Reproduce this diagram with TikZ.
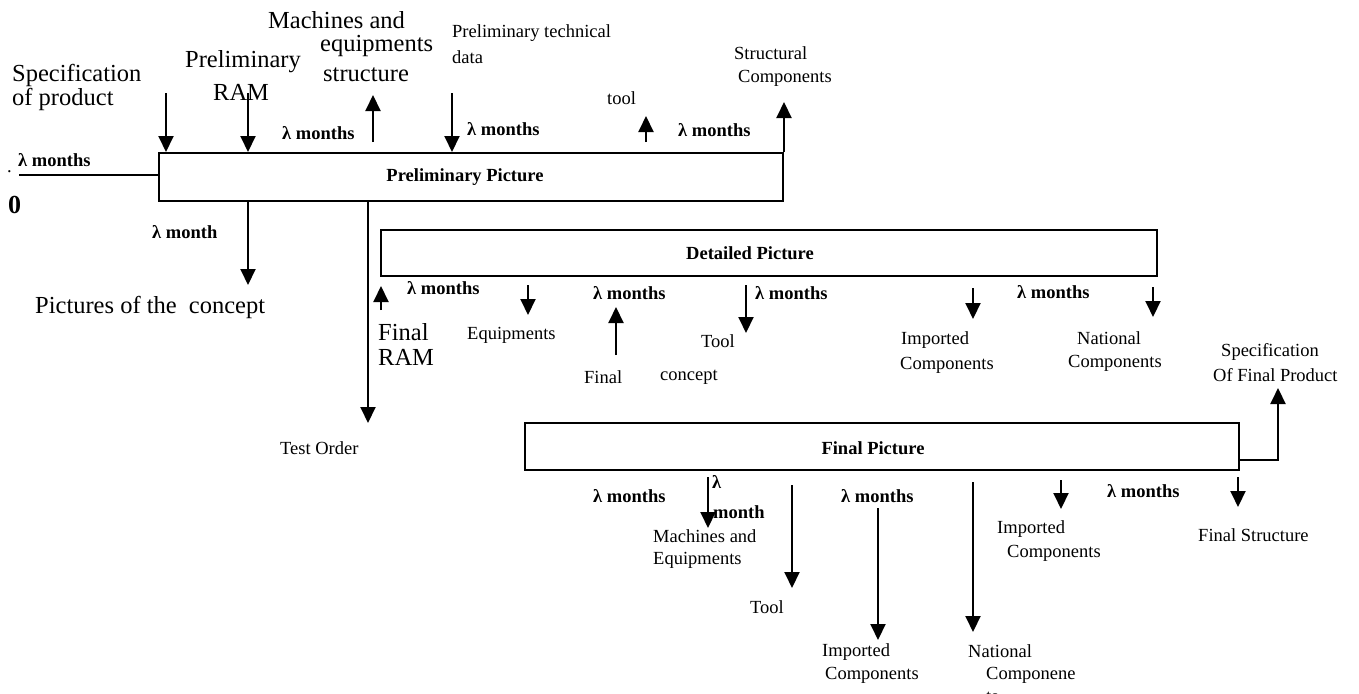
\documentclass[tikz,border=0pt]{standalone}
\usepackage{fontspec}
\setmainfont{Liberation Serif}
\usetikzlibrary{arrows.meta}
\begin{document}
\begin{tikzpicture}[x=1pt,y=-1pt,
  arr/.style={line width=2pt,-{Triangle[width=15pt,length=16pt]}},
  ln/.style={line width=2pt},
  box/.style={draw,line width=2pt,inner sep=0pt},
  sm/.style={inner sep=0pt,anchor=west,font=\fontsize{18.5}{22}\selectfont},
  lg/.style={inner sep=0pt,anchor=west,font=\fontsize{24.5}{22}\selectfont},
  bd/.style={inner sep=0pt,anchor=west,font=\bfseries\fontsize{18.5}{22}\selectfont},
  bc/.style={inner sep=0pt,font=\bfseries\fontsize{18.5}{22}\selectfont}]
\useasboundingbox (0,0) rectangle (1359,693);

% boxes
\node[box,minimum width=624pt,minimum height=48pt] (b1) at (471,177) {};
\node[box,minimum width=776pt,minimum height=46pt] (b2) at (769,253) {};
\node[box,minimum width=714pt,minimum height=47pt] (b3) at (882,446.5) {};
\node[bc] (l1) at (465,177) {Preliminary Picture};
\node[bc] (l2) at (750,253) {Detailed Picture};
\node[bc] (l3) at (873,448) {Final Picture};

% left line
\coordinate (st) at (19,175);
\draw[ln] (st) -- (st -| b1.west);
\node[sm] (dot) at (7,172) {.};
\node[bd] (m0) at (18,160) {λ months};
\node[inner sep=0pt,anchor=west,font=\bfseries\fontsize{26}{22}\selectfont] (zero) at (8,205) {0};

% top of box 1
\coordinate (a1) at (166,93);
\draw[arr] (a1) -- (a1 |- b1.north);
\node[lg] (t1a) at (12,75) {Specification};
\node[lg] (t1b) at (12,99) {of product};
\coordinate (a2) at (248,93);
\draw[arr] (a2) -- (a2 |- b1.north);
\node[lg] (t2a) at (185,62) {Preliminary};
\node[lg] (t2b) at (213,92) {RAM};
\coordinate (a3s) at (373,142);
\coordinate (a3e) at (373,95);
\draw[arr] (a3s) -- (a3e);
\node[lg] (t3a) at (268,20) {Machines and};
\node[lg] (t3b) at (320,46) {equipments};
\node[lg] (t3c) at (323,75) {structure};
\node[bd] (m1) at (282,133) {λ months};
\coordinate (a4) at (452,93);
\draw[arr] (a4) -- (a4 |- b1.north);
\node[sm] (t4a) at (452,33) {Preliminary technical};
\node[sm] (t4b) at (452,57) {data};
\node[bd] (m2) at (467,129) {λ months};
\coordinate (a5s) at (646,142);
\coordinate (a5e) at (646,116);
\draw[arr] (a5s) -- (a5e);
\node[sm] (t5) at (607,98) {tool};
\node[bd] (m3) at (678,130) {λ months};
\coordinate (a6) at (784,102);
\draw[arr] (a6 |- b1.north) -- (a6);
\node[sm] (t6a) at (734,53) {Structural};
\node[sm] (t6b) at (738,78) {Components};

% bottom of box 1
\coordinate (a7) at (248,285);
\draw[arr] (a7 |- b1.south) -- (a7);
\node[bd] (m4) at (152,232) {λ month};
\node[lg] (t7) at (35,307) {Pictures of the~ concept};
\coordinate (a8) at (368,423);
\draw[arr] (a8 |- b1.south) -- (a8);
\node[sm] (t8) at (280,448) {Test Order};

% box 2
\coordinate (a9s) at (381,310);
\coordinate (a9e) at (381,286);
\draw[arr] (a9s) -- (a9e);
\node[lg] (t9a) at (378,332) {Final};
\node[lg] (t9b) at (378,357) {RAM};
\node[bd] (m5) at (407,288) {λ months};
\coordinate (a10s) at (528,285);
\coordinate (a10e) at (528,315);
\draw[arr] (a10s) -- (a10e);
\node[sm] (t10) at (467,335) {Equipments};
\node[bd] (m6) at (593,293) {λ months};
\coordinate (a11s) at (616,355);
\coordinate (a11e) at (616,307);
\draw[arr] (a11s) -- (a11e);
\node[sm] (t11a) at (584,377) {Final};
\node[sm] (t11b) at (660,377) {concept};
\coordinate (a12s) at (746,285);
\coordinate (a12e) at (746,333);
\draw[arr] (a12s) -- (a12e);
\node[sm] (t12) at (701,341) {Tool};
\node[bd] (m7) at (755,293) {λ months};
\coordinate (a13s) at (973,288);
\coordinate (a13e) at (973,319);
\draw[arr] (a13s) -- (a13e);
\node[sm] (t13a) at (901,340) {Imported};
\node[sm] (t13b) at (900,365) {Components};
\node[bd] (m8) at (1017,292) {λ months};
\coordinate (a14s) at (1153,287);
\coordinate (a14e) at (1153,317);
\draw[arr] (a14s) -- (a14e);
\node[sm] (t14a) at (1077,338) {National};
\node[sm] (t14b) at (1068,363) {Components};

% box 3
\coordinate (a15) at (1278,388);
\draw[arr] (b3.east |- 0,460) -| (a15);
\node[sm] (t15a) at (1221,352) {Specification};
\node[sm] (t15b) at (1213,375) {Of Final Product};
\node[bd] (m9) at (593,496) {λ months};
\coordinate (a16s) at (708,477);
\coordinate (a16e) at (708,528);
\draw[arr] (a16s) -- (a16e);
\node[bd] (m10a) at (712,482) {λ};
\node[bd] (m10b) at (713,512) {month};
\node[sm] (t16a) at (653,536) {Machines and};
\node[sm] (t16b) at (653,560) {Equipments};
\coordinate (a17s) at (792,485);
\coordinate (a17e) at (792,588);
\draw[arr] (a17s) -- (a17e);
\node[sm] (t17) at (750,607) {Tool};
\node[bd] (m11) at (841,496) {λ months};
\coordinate (a18s) at (878,508);
\coordinate (a18e) at (878,640);
\draw[arr] (a18s) -- (a18e);
\node[sm] (t18a) at (822,652) {Imported};
\node[sm] (t18b) at (825,675) {Components};
\coordinate (a19s) at (973,482);
\coordinate (a19e) at (973,632);
\draw[arr] (a19s) -- (a19e);
\node[sm] (t19a) at (968,651) {National};
\node[sm] (t19b) at (986,675) {Componene};
\node[sm] (t19c) at (986,697) {ts};
\coordinate (a20s) at (1061,480);
\coordinate (a20e) at (1061,509);
\draw[arr] (a20s) -- (a20e);
\node[sm] (t20a) at (997,529) {Imported};
\node[sm] (t20b) at (1007,553) {Components};
\node[bd] (m12) at (1107,491) {λ months};
\coordinate (a21s) at (1238,477);
\coordinate (a21e) at (1238,507);
\draw[arr] (a21s) -- (a21e);
\node[sm] (t21) at (1198,535) {Final Structure};
\end{tikzpicture}
\end{document}
